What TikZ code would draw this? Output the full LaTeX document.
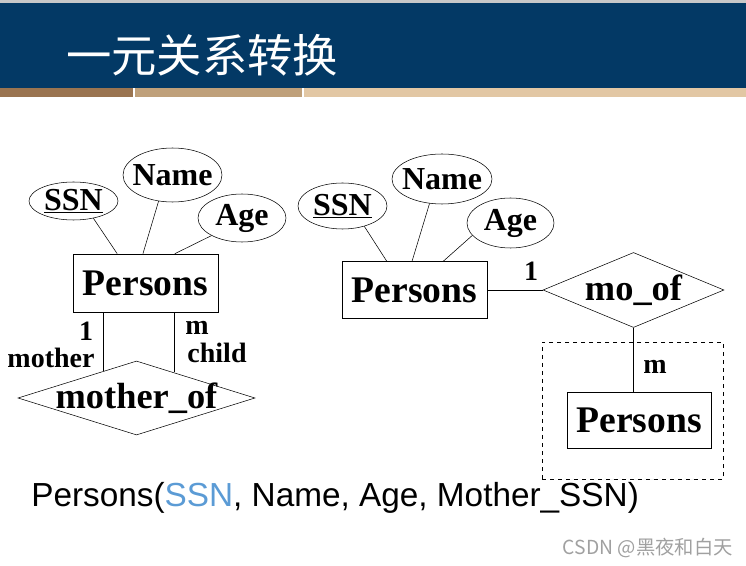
\documentclass[tikz,border=0pt]{standalone}
\usepackage{fontspec}
\setmainfont{Liberation Serif}
\newfontfamily\arialfont{Liberation Sans}
\newfontfamily\cjkfont{Noto Sans CJK SC}
\usepackage{tikz}
\usetikzlibrary{shapes.geometric}
\definecolor{hdrblue}{RGB}{3,57,101}
\definecolor{hdrgrey}{RGB}{200,200,200}
\definecolor{barone}{RGB}{154,116,80}
\definecolor{bartwo}{RGB}{191,160,122}
\definecolor{barthree}{RGB}{226,199,164}
\definecolor{keyblue}{RGB}{91,155,213}
\definecolor{markgrey}{RGB}{160,160,160}

\begin{document}
\begin{tikzpicture}[x=0.75pt,y=0.75pt,yscale=-1,xscale=1,
  attr/.style={draw, ellipse, inner sep=0pt},
  attrtext/.style={font=\bfseries\fontsize{24}{24}\selectfont, inner sep=0pt},
  entity/.style={draw, rectangle, inner sep=0pt, minimum width=108.75pt, minimum height=42.5pt, font=\bfseries\fontsize{28.2}{28}\selectfont},
  rel/.style={draw, diamond, inner sep=0pt},
  reltext/.style={font=\bfseries\fontsize{27.3}{27}\selectfont, inner sep=0pt},
  card/.style={font=\bfseries\fontsize{21}{21}\selectfont, inner sep=0pt}]
\useasboundingbox (0,0) rectangle (746,566);

%Header band
\fill[hdrgrey] (0,0) rectangle (746,3);
\fill[hdrblue] (0,3) rectangle (746,88);
\fill[barone] (0,88) rectangle (133,97);
\fill[bartwo] (135,88) rectangle (302,97);
\fill[barthree] (304,88) rectangle (746,97);
% Text Node
\node[anchor=west, text=white, inner sep=0pt, font=\cjkfont\fontsize{34}{34}\selectfont] (title) at (66,55) {一元关系转换};

%Shape: Ellipse (left)
\node[attr, minimum width=66.75pt, minimum height=28.5pt, label={[attrtext]center:\underline{SSN}}] (ssnL) at (73.5,201) {};
\node[attr, minimum width=74.25pt, minimum height=40.5pt, label={[attrtext]center:Name}] (nameL) at (172.5,175) {};
\node[attr, minimum width=66pt, minimum height=36pt, label={[attrtext]center:Age}] (ageL) at (242,218) {};
%Shape: Rectangle (left)
\node[entity, minimum height=43.5pt] (persL) at (145.5,283) {Persons};
%Shape: Diamond (left)
\node[rel, minimum width=177.75pt, minimum height=55.5pt, label={[reltext]center:mother\_of}] (mothL) at (136.5,398) {};

%Straight Lines (left)
\draw (ssnL.-41) -- (persL.134);
\draw (nameL.-118) -- (persL.95);
\draw (ageL.-150) -- (persL.45);
\draw (persL.-145) -- (persL.-145 |- mothL.140);
\draw (persL.-46.5) -- (persL.-46.5 |- mothL.35);

% Text Node
\node[card] (oneL) at (86,331) {1};
\node[card] (motherL) at (51,358) {mother};
\node[card] (mL) at (197,328) {m};
\node[card] (childL) at (217,353) {child};

%Shape: Ellipse (right)
\node[attr, minimum width=66.75pt, minimum height=34.5pt, label={[attrtext]center:\underline{SSN}}] (ssnR) at (342.5,206) {};
\node[attr, minimum width=75pt, minimum height=37.5pt, label={[attrtext]center:Name}] (nameR) at (442,179) {};
\node[attr, minimum width=65.25pt, minimum height=37.5pt, label={[attrtext]center:Age}] (ageR) at (510.5,223) {};
%Shape: Rectangle (right)
\node[entity] (persR) at (414.5,290) {Persons};
%Shape: Diamond (right)
\node[rel, minimum width=135.75pt, minimum height=56.25pt, label={[reltext]center:mo\_of}] (moof) at (633.5,290) {};
%Shape: Dashed Rectangle
\node[draw, dashed, inner sep=0pt, minimum width=135.75pt, minimum height=102.75pt] (grpR) at (632.5,410.5) {};
%Shape: Rectangle (right, lower)
\node[entity, minimum width=108pt, minimum height=42pt] (persRb) at (639,420) {Persons};

%Straight Lines (right)
\draw (ssnR.-43) -- (persR.134.5);
\draw (nameR.-117.5) -- (persR.95);
\draw (ageR.-162) -- (persR.45.5);
\draw (persR.east) -- (moof.west);
\draw (moof.south) -- (moof.south |- persRb.north);

% Text Node
\node[card] (oneR) at (531,271.5) {1};
\node[card] (mR) at (655,367) {m};

% Text Node
\node[anchor=base west, inner sep=0pt, font=\arialfont\fontsize{25}{25}\selectfont] (schema) at (31,506) {Persons({\color{keyblue}SSN}, Name, Age, Mother\_SSN)};
% Text Node
\node[anchor=base east, inner sep=0pt, text=markgrey, font=\cjkfont\fontsize{14.5}{14.5}\selectfont] (mark) at (733,554) {CSDN @黑夜和白天};

\end{tikzpicture}
\end{document}
